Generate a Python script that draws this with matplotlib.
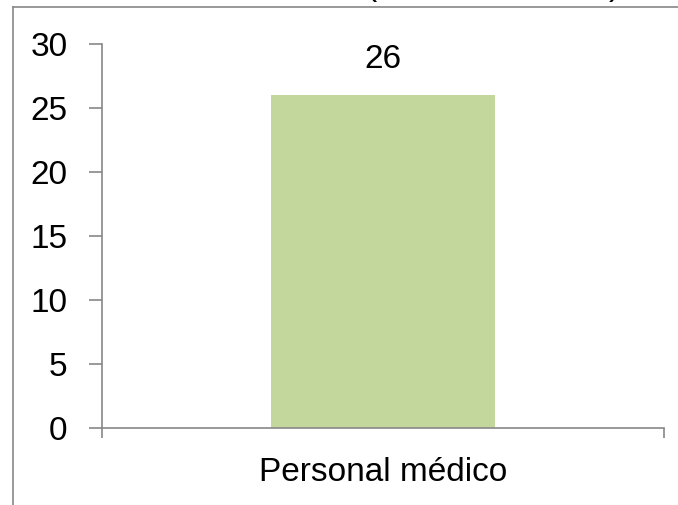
import matplotlib
matplotlib.use('Agg')
import matplotlib.pyplot as plt
from matplotlib.lines import Line2D

categories = ['Personal médico']
values = [26]
yticks = [0, 5, 10, 15, 20, 25, 30]

plt.rcParams['font.family'] = ['Liberation Sans', 'DejaVu Sans']

fig = plt.figure(figsize=(6.78, 5.05), dpi=100)
ax = fig.add_axes([102/678, 1 - 428/505, 562/678, 384/505])

bars = ax.bar(range(len(categories)), values, width=0.4, color='#C3D69B')
for b, v in zip(bars, values):
    ax.text(b.get_x() + b.get_width()/2, v + 1.55, str(v), ha='center', va='bottom', fontsize=24)

ax.set_xlim(-0.5, len(categories) - 0.5)
ax.set_ylim(0, 30)
ax.set_yticks(yticks)
ax.set_xticks(range(len(categories)))
ax.set_xticklabels(categories)
ax.set_xticks([-0.5, 0.5], minor=True)

for s in ['top', 'right']:
    ax.spines[s].set_visible(False)
for s in ['left', 'bottom']:
    ax.spines[s].set_color('#888888')
    ax.spines[s].set_linewidth(1.2)

ax.tick_params(axis='y', labelsize=24, length=9.4, width=1.2, color='#888888', pad=15.5)
ax.tick_params(axis='x', which='major', labelsize=24, length=0, pad=21)
ax.tick_params(axis='x', which='minor', length=7, width=1.2, color='#888888')

# chart frame and clipped title remnants
fig.add_artist(Line2D([12.5/678, 12.5/678], [0, 1 - 7/505], color='#888888', lw=1.2, transform=fig.transFigure))
fig.add_artist(Line2D([12.5/678, 1], [1 - 7/505, 1 - 7/505], color='#888888', lw=1.2, transform=fig.transFigure))
fig.text(371/678, 1 + 5/505, '(', ha='center', va='baseline', fontsize=24)
fig.text(614/678, 1 + 5/505, ')', ha='center', va='baseline', fontsize=24)

fig.savefig('out.png', dpi=100)
